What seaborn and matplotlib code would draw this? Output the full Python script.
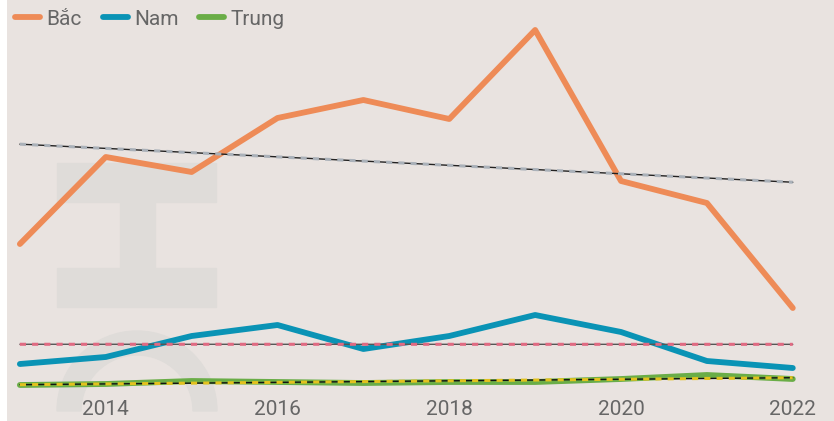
import numpy as np
import pandas as pd
import matplotlib.pyplot as plt
import seaborn as sns
from matplotlib.patches import Rectangle, Wedge

# data
years = [2013, 2014, 2015, 2016, 2017, 2018, 2019, 2020, 2021, 2022]
bac = [156, 243, 228, 282, 300, 281, 370, 219, 197, 92]
nam = [36, 43, 64, 75, 51, 64, 85, 68, 39, 32]
trung = [15, 16, 19, 18, 17, 18, 18, 21, 25, 21]
regions = ["Bắc", "Nam", "Trung"]
colors = {"Bắc": "#ee8b57", "Nam": "#0a93b5", "Trung": "#6aad47"}
trend_dash = {"Bắc": "#aab1b9", "Nam": "#e06a82", "Trung": "#e2c21e"}
trend_base = {"Bắc": "#222222", "Nam": "#555555", "Trung": "#111111"}

df = pd.DataFrame({"year": years * 3,
                   "value": bac + nam + trung,
                   "region": ["Bắc"] * 10 + ["Nam"] * 10 + ["Trung"] * 10})

sns.set_theme(style="white")
plt.rcParams['font.family'] = ['Roboto', 'DejaVu Sans']

fig = plt.figure(figsize=(8.34, 4.21), dpi=100)
ax = fig.add_axes([7 / 834, 0, 827 / 834, 1])
ax.set_facecolor("#e9e3e0")

# faint watermark logo
wm = "#dfdcd9"
def px(x, y):
    return (x / 100, (421 - y) / 100)
tr = fig.dpi_scale_trans
ax.add_patch(Rectangle(px(57, 202), 1.59, 0.39, transform=tr, color=wm, zorder=0))
ax.add_patch(Rectangle(px(120, 268), 0.35, 0.66, transform=tr, color=wm, zorder=0))
ax.add_patch(Rectangle(px(57, 307), 1.59, 0.39, transform=tr, color=wm, zorder=0))
ax.add_patch(Wedge(px(137, 411), 0.80, 0, 180, width=0.24, transform=tr, color=wm, zorder=0))

# trend lines
for reg in regions:
    d = df[df.region == reg]
    k, b = np.polyfit(d.year, d.value, 1)
    xs = np.array([years[0], years[-1]])
    ys = k * xs + b
    ax.plot(xs, ys, color=trend_base[reg], lw=1.0, zorder=3)
    ax.plot(xs, ys, color=trend_dash[reg], lw=2.2, ls=(0, (2, 2)), zorder=3)

sns.lineplot(data=df, x="year", y="value", hue="region", palette=colors,
             linewidth=4.2, ax=ax, zorder=2, solid_capstyle="round")

ax.set_xlim(2012.85, 2022.48)
ax.set_ylim(-21, 400)
ax.set_xticks([2014, 2016, 2018, 2020, 2022])
ax.set_yticks([])
ax.set_xlabel("")
ax.set_ylabel("")
ax.tick_params(axis="x", length=0, pad=-15, labelsize=15, labelcolor="#666666")
for s in ax.spines.values():
    s.set_visible(False)

handles, labels = ax.get_legend_handles_labels()
for h in handles:
    h.set_solid_capstyle("round")
leg = ax.legend(handles, labels, loc="upper left", ncol=3, frameon=False,
                fontsize=15, handlelength=1.2, handletextpad=0.3,
                columnspacing=1.0, borderaxespad=0.0, bbox_to_anchor=(0.0, 0.997))
for t in leg.get_texts():
    t.set_color("#666666")

fig.savefig("out.png", dpi=100, facecolor="white")
